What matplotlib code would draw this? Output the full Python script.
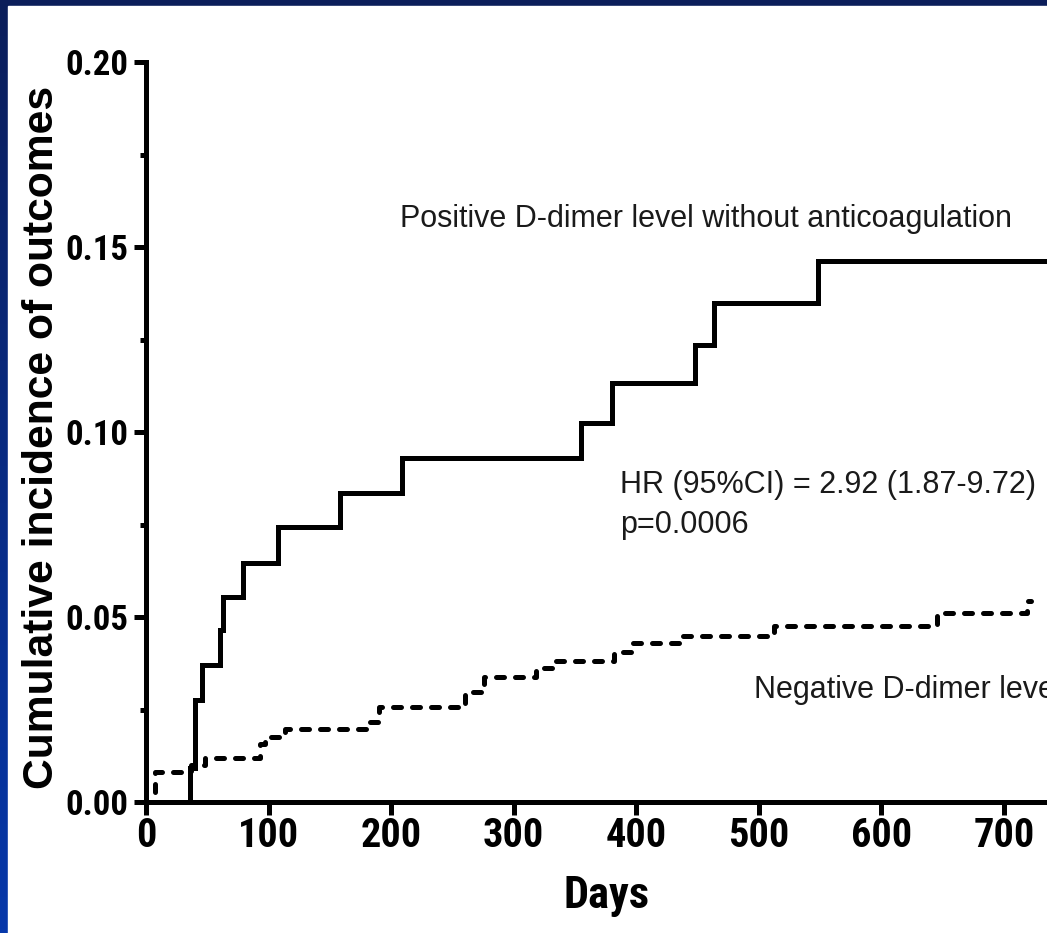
import numpy as np
import matplotlib
matplotlib.use("Agg")
import matplotlib.pyplot as plt
from matplotlib import font_manager
from matplotlib.colors import LinearSegmentedColormap
from matplotlib.patches import Rectangle

# Kaplan-Meier style cumulative incidence
pos_days = [0, 36, 40, 46, 60, 63, 79, 108, 158, 209, 355, 380, 448, 463, 548, 740]
pos_inc = [0, 0.0093, 0.0277, 0.0370, 0.0465, 0.0555, 0.0646, 0.0743, 0.0835,
           0.0930, 0.1024, 0.1132, 0.1235, 0.1349, 0.1463, 0.1463]

neg_days = [0, 7, 37, 48, 93, 97, 113, 180, 190, 260, 276, 318, 332, 382, 397,
            438, 512, 645, 719, 722]
neg_inc = [0, 0.0082, 0.0100, 0.0119, 0.0157, 0.0176, 0.0197, 0.0217, 0.0258,
           0.0296, 0.0339, 0.0361, 0.0381, 0.0406, 0.0429, 0.0449, 0.0476,
           0.0510, 0.0543, 0.0543]

x_ticks = [0, 100, 200, 300, 400, 500, 600, 700]
y_ticks = [0.00, 0.05, 0.10, 0.15, 0.20]
y_minor = [0.025, 0.075, 0.125, 0.175]

pos_label = "Positive D-dimer level without anticoagulation"
neg_label = "Negative D-dimer level"
hr_lines = ["HR (95%CI) = 2.92 (1.87-9.72)", "p=0.0006"]


def pick_font(names):
    for n in names:
        try:
            font_manager.findfont(n, fallback_to_default=False)
            return n
        except ValueError:
            continue
    return "DejaVu Sans"


narrow = pick_font(["Roboto Condensed", "Liberation Sans Narrow", "Liberation Sans"])
wide = pick_font(["Liberation Sans", "Arial", "DejaVu Sans"])

W, H = 1047, 933
fig = plt.figure(figsize=(W / 100, H / 100), dpi=100)

# blue slide frame with white panel
bg = fig.add_axes([0, 0, 1, 1])
bg.axis("off")
cmap = LinearSegmentedColormap.from_list("frame", ["#0b1e5a", "#0638aa"])
bg.imshow(np.linspace(0, 1, 256).reshape(-1, 1), aspect="auto", cmap=cmap,
          extent=[0, 1, 0, 1])
bg.add_patch(Rectangle((8 / W, 0), 1, 1 - 6 / H, color="white"))
bg.set_xlim(0, 1)
bg.set_ylim(0, 1)

px_per_day = 858 / 700
x_max = 760
ax = fig.add_axes([146 / W, 131 / H, x_max * px_per_day / W, 740 / H])
ax.set_facecolor("none")

lw = 3.6
ax.step(pos_days, pos_inc, where="post", color="black", lw=lw,
        solid_joinstyle="miter", clip_on=False)
ax.step(neg_days, neg_inc, where="post", color="black", lw=lw,
        linestyle=(0, (1.6, 2.2)), dash_capstyle="round", clip_on=False)

ax.set_xlim(0, x_max)
ax.set_ylim(0, 0.20)
for s in ["top", "right"]:
    ax.spines[s].set_visible(False)
for s in ["left", "bottom"]:
    ax.spines[s].set_linewidth(lw)

ax.set_xticks(x_ticks)
ax.set_xticklabels([str(v) for v in x_ticks], fontsize=29, fontweight="bold",
                   family=narrow)
ax.set_yticks(y_ticks)
ax.set_yticklabels([f"{v:.2f}" for v in y_ticks], fontsize=25,
                   fontweight="bold", family=narrow)
ax.set_yticks(y_minor, minor=True)
ax.tick_params(axis="x", length=9, width=lw, pad=2, color="black")
ax.tick_params(axis="y", which="major", length=9, width=lw, pad=4)
ax.tick_params(axis="y", which="minor", length=4, width=lw)

fig.text(42 / W, (H - 437) / H, "Cumulative incidence of outcomes",
         rotation=90, ha="center", va="center", fontsize=30.7,
         fontweight="bold", family=wide)
fig.text(607 / W, (H - 908) / H, "Days", ha="center", va="baseline",
         fontsize=32, fontweight="bold", family=narrow)

txt = "#1a1a1a"
ax.text(207, 0.1554, pos_label, fontsize=22, family=wide, color=txt,
        va="baseline")
ax.text(387, 0.0835, hr_lines[0], fontsize=22, family=wide, color=txt,
        va="baseline")
ax.text(387, 0.0727, hr_lines[1], fontsize=22, family=wide, color=txt,
        va="baseline")
ax.text(496, 0.0281, neg_label, fontsize=22, family=wide, color=txt,
        va="baseline")

fig.savefig("out.png", dpi=100)
